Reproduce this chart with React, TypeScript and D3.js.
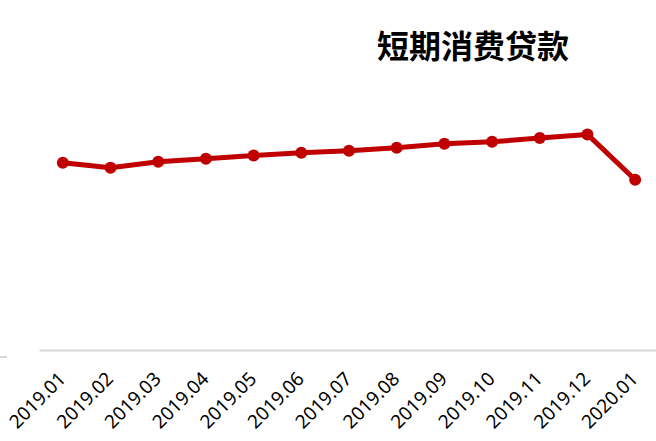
import * as d3 from "d3";
import { useRef, useEffect } from "react";

// 月份
const months = [
  "2019.01", "2019.02", "2019.03", "2019.04", "2019.05", "2019.06", "2019.07",
  "2019.08", "2019.09", "2019.10", "2019.11", "2019.12", "2020.01",
];

// 短期消费贷款（万亿元，按图估读）
const loans = [8.64, 8.41, 8.69, 8.83, 8.98, 9.1, 9.2, 9.34, 9.52, 9.61, 9.78, 9.95, 7.86];

const title = "短期消费贷款";

export default function App() {
  const width = 656;
  const height = 441;
  const marginLeft = 39;
  const marginRight = -3;
  const axisY = 350;
  const plotTop = 90;
  const lineColor = "#C00000";

  const ref = useRef(null);

  useEffect((): void => {
    if (!ref.current) return;
    const svg = d3.select(ref.current);
    svg.selectAll("*").remove();

    const x = d3
      .scaleBand<string>()
      .domain(months)
      .range([marginLeft, width - marginRight])
      .padding(0);

    const y = d3.scaleLinear().domain([0, 12]).range([axisY, plotTop]);

    const cx = (d: string) => (x(d) ?? 0) + x.bandwidth() / 2;

    // 左侧残留刻度
    svg
      .append("line")
      .attr("x1", 0)
      .attr("x2", 7)
      .attr("y1", 357)
      .attr("y2", 357)
      .attr("stroke", "#D9D9D9")
      .attr("stroke-width", 2);

    // x 轴
    const xAxis = d3.axisBottom(x).tickSize(0).tickSizeOuter(0);
    svg
      .append("g")
      .attr("transform", `translate(0, ${axisY})`)
      .call(xAxis)
      .call((g) => {
        g.select(".domain").attr("stroke", "#D9D9D9").attr("stroke-width", 2);
        g.selectAll(".tick text")
          .attr("x", null)
          .attr("y", null)
          .attr("dy", null)
          .attr("text-anchor", "end")
          .attr("transform", "translate(4, 30) rotate(-45)")
          .attr("fill", "#000")
          .attr("font-family", "'Noto Sans', sans-serif")
          .attr("font-size", 19);
      });

    const line = d3
      .line<number>()
      .x((_, i) => cx(months[i]))
      .y((d) => y(d));

    svg
      .append("path")
      .datum(loans)
      .attr("d", line)
      .attr("fill", "none")
      .attr("stroke", lineColor)
      .attr("stroke-width", 5)
      .attr("stroke-linejoin", "round");

    svg
      .append("g")
      .selectAll("circle")
      .data(loans)
      .enter()
      .append("circle")
      .attr("cx", (_, i) => cx(months[i]))
      .attr("cy", (d) => y(d))
      .attr("r", 6)
      .attr("fill", lineColor);

    svg
      .append("text")
      .attr("x", 473)
      .attr("y", 58)
      .attr("text-anchor", "middle")
      .attr("font-family", "'Noto Sans CJK SC', sans-serif")
      .attr("font-weight", "bold")
      .attr("font-size", 32)
      .attr("fill", "#000")
      .text(title);
  }, []);

  return (
    <svg
      ref={ref}
      width={width}
      height={height}
      style={{ position: "fixed", left: 0, top: 0, background: "#fff" }}
    />
  );
}
